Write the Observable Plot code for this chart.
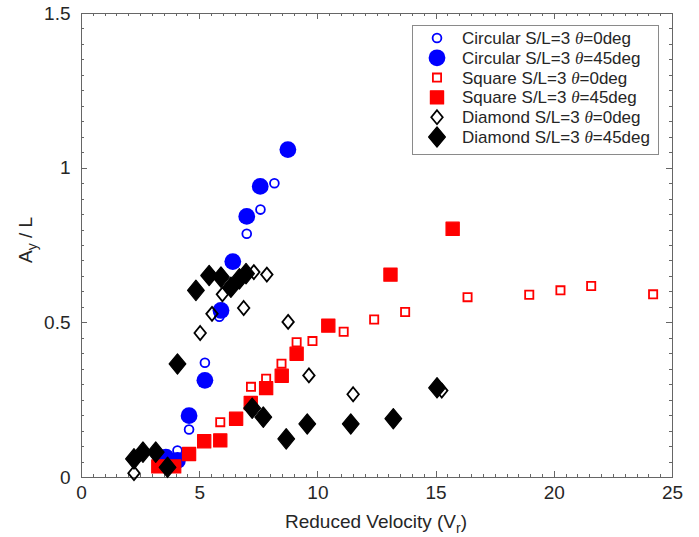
<!DOCTYPE html>
<html><head><meta charset="utf-8">
<script src="https://cdn.jsdelivr.net/npm/d3@7"></script>
<script src="https://cdn.jsdelivr.net/npm/@observablehq/plot@0.6"></script>
<style>
body{margin:0;background:#fff}
#chart{width:699px;height:537px}
</style>
</head><body><div id="chart"></div>
<script>
// ---- data ----
const circ0X = [4.06, 4.55, 5.22, 5.83, 6.99, 7.57, 8.16];
const circ0Y = [0.087, 0.155, 0.371, 0.520, 0.788, 0.866, 0.951];
const circ45X = [3.57, 4.06, 4.55, 5.22, 5.90, 6.40, 6.99, 7.56, 8.73];
const circ45Y = [0.066, 0.055, 0.200, 0.314, 0.540, 0.698, 0.844, 0.941, 1.060];
const sq0X = [5.87, 7.17, 7.81, 8.46, 9.10, 9.77, 11.09, 12.38, 13.69, 16.33, 18.94, 20.26, 21.56, 24.18];
const sq0Y = [0.179, 0.293, 0.319, 0.368, 0.437, 0.441, 0.471, 0.511, 0.535, 0.583, 0.591, 0.605, 0.619, 0.592];
const sq45X = [3.25, 3.92, 4.55, 5.19, 5.87, 6.54, 7.16, 7.81, 8.47, 9.10, 10.44, 13.07, 15.70];
const sq45Y = [0.036, 0.036, 0.076, 0.117, 0.120, 0.190, 0.241, 0.289, 0.329, 0.400, 0.491, 0.656, 0.804];
const dia0X = [2.22, 5.02, 5.52, 5.96, 6.86, 7.29, 7.84, 8.74, 9.62, 11.49, 15.24];
const dia0Y = [0.014, 0.467, 0.529, 0.592, 0.548, 0.664, 0.656, 0.503, 0.330, 0.269, 0.281];
const dia45X = [2.22, 2.60, 3.14, 3.64, 4.06, 4.84, 5.40, 5.90, 6.32, 6.68, 6.96, 7.22, 7.69, 8.66, 9.55, 11.39, 13.19, 15.04];
const dia45Y = [0.060, 0.082, 0.082, 0.033, 0.367, 0.605, 0.653, 0.648, 0.615, 0.642, 0.659, 0.224, 0.195, 0.125, 0.173, 0.173, 0.190, 0.290];

const legendShapes = ["Circular", "Circular", "Square", "Square", "Diamond", "Diamond"];
const legendAngles = ["0", "45", "0", "45", "0", "45"];
const xMajor = [0, 5, 10, 15, 20, 25];
const yMajor = [0, 0.5, 1, 1.5];
const xLabel = "Reduced Velocity (V";
const yLabel = "A";

// ---- symbols ----
const symSquare = {draw(ctx, size){const r=Math.sqrt(size/Math.PI);ctx.moveTo(-r,-r);ctx.lineTo(r,-r);ctx.lineTo(r,r);ctx.lineTo(-r,r);ctx.closePath();}};
const symDiamond = {draw(ctx, size){const r=Math.sqrt(size/Math.PI);const w=r*0.82;ctx.moveTo(0,-r);ctx.lineTo(w,0);ctx.lineTo(0,r);ctx.lineTo(-w,0);ctx.closePath();}};

const styles = [
  {symbol:"circle", r:4.4, fill:"none", stroke:"#0000ff", strokeWidth:1.8},
  {symbol:"circle", r:8.4, fill:"#0000ff", stroke:"none", strokeWidth:0},
  {symbol:symSquare, r:4.1, fill:"none", stroke:"#ff0000", strokeWidth:1.8},
  {symbol:symSquare, r:6.6, fill:"#ff0000", stroke:"#ff0000", strokeWidth:1.2, strokeLinejoin:"round"},
  {symbol:symDiamond, r:7.0, fill:"none", stroke:"#000", strokeWidth:1.8},
  {symbol:symDiamond, r:10.2, fill:"#000", stroke:"#000", strokeWidth:1.2, strokeLinejoin:"round"}
];
const seriesXY = [[circ0X,circ0Y],[circ45X,circ45Y],[sq0X,sq0Y],[sq45X,sq45Y],[dia0X,dia0Y],[dia45X,dia45Y]];
const series = seriesXY.map(([xs,ys]) => xs.map((x,i)=>({x, y: ys[i]})));

const W = 699, H = 537, ML = 81, MR = 27, MT = 13, MB = 60;
const xMinor = d3.range(0, 25.001, 0.5);
const yMinor = d3.range(0, 1.5001, 0.05);
const axisColor = "#666";
const font = "'Liberation Sans', Arial, sans-serif";

const plot = Plot.plot({
  width: W, height: H,
  marginLeft: ML, marginRight: MR, marginTop: MT, marginBottom: MB,
  style: {fontFamily: font, fontSize: "19px", color: "#262626", background: "#fff"},
  x: {domain: [0, 25]},
  y: {domain: [0, 1.5]},
  marks: [
    Plot.frame({stroke: axisColor}),
    Plot.axisX({anchor:"bottom", ticks:xMajor, tickSize:0, tickPadding:8, tickFormat: d=>String(d), label:null, fontSize:19}),
    Plot.axisY({anchor:"left", ticks:yMajor, tickSize:0, tickPadding:11, tickFormat: d=>String(d), label:null, fontSize:19}),
    ...series.map((data, i) => Plot.dot(data, {x:"x", y:"y", ...styles[i]}))
  ]
});
document.getElementById("chart").appendChild(plot);

const svg = d3.select(plot);
const sx = plot.scale("x"), sy = plot.scale("y");
const X0 = sx.apply(0), X1 = sx.apply(25), Y0 = sy.apply(0), Y1 = sy.apply(1.5);
// inward ticks on all four sides (MATLAB box style)
const tg = svg.insert("g", ":first-child").attr("stroke", axisColor).attr("stroke-width", 1);
const tickSpecs = [[xMinor, 3], [xMajor, 6]];
tickSpecs.forEach(([vals, len]) => vals.forEach(v => {
  const px = Math.round(sx.apply(v)) + 0.5;
  tg.append("line").attr("x1", px).attr("x2", px).attr("y1", Y0).attr("y2", Y0 - len);
  tg.append("line").attr("x1", px).attr("x2", px).attr("y1", Y1).attr("y2", Y1 + len);
}));
[[yMinor, 3], [yMajor, 6]].forEach(([vals, len]) => vals.forEach(v => {
  const py = Math.round(sy.apply(v)) + 0.5;
  tg.append("line").attr("y1", py).attr("y2", py).attr("x1", X0).attr("x2", X0 + len);
  tg.append("line").attr("y1", py).attr("y2", py).attr("x1", X1).attr("x2", X1 - len);
}));

// x axis title
const xt = svg.append("text").attr("x", 376).attr("y", 528).attr("text-anchor","middle")
  .attr("font-family", font).attr("font-size", 19).attr("fill", "#262626");
xt.append("tspan").text(xLabel);
xt.append("tspan").attr("dy", 5).attr("font-size", 14).text("r");
xt.append("tspan").attr("dy", -5).text(")");
// y axis title
const yt = svg.append("text").attr("transform", "translate(32,240) rotate(-90)").attr("text-anchor","middle")
  .attr("font-family", font).attr("font-size", 19).attr("fill", "#262626");
yt.append("tspan").text(yLabel);
yt.append("tspan").attr("dy", 5).attr("font-size", 14).text("y");
yt.append("tspan").attr("dy", -5).text(" / L");

// legend
const lg = svg.append("g");
lg.append("rect").attr("x", 412.5).attr("y", 25.5).attr("width", 246).attr("height", 129)
  .attr("fill", "#fff").attr("stroke", "#8a8a8a").attr("stroke-width", 1);
legendShapes.forEach((name, i) => {
  const cy = 38 + i * 19.8;
  const st = styles[i];
  const sym = st.symbol === "circle" ? d3.symbolCircle : st.symbol;
  lg.append("path").attr("transform", `translate(437,${cy})`)
    .attr("d", d3.symbol(sym, st.r * st.r * Math.PI)())
    .attr("fill", st.fill).attr("stroke", st.stroke).attr("stroke-width", st.strokeWidth)
    .attr("stroke-linejoin", st.strokeLinejoin || "miter");
  const t = lg.append("text").attr("x", 462).attr("y", cy + 6).attr("text-anchor", "start")
    .attr("font-family", font).attr("font-size", 17).attr("fill", "#262626");
  t.append("tspan").text(`${name} S/L=3 `);
  t.append("tspan").attr("font-family", "'Liberation Serif', 'DejaVu Serif', serif").attr("font-style", "italic").text("θ");
  t.append("tspan").text(`=${legendAngles[i]}deg`);
});
</script>
</body></html>
